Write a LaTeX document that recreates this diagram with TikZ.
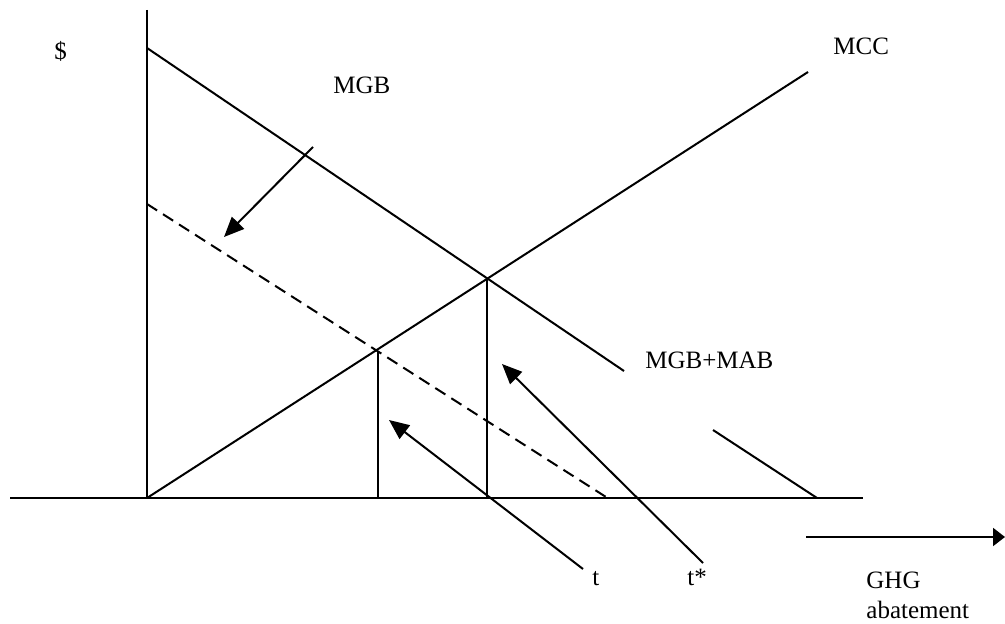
\documentclass[tikz,border=0pt]{standalone}
\usepackage{fontspec}
\setmainfont{Liberation Serif}
\usetikzlibrary{arrows.meta}
\tikzset{
    curve/.style={line width=1pt},
    shift arrow/.style={line width=1pt, -{Triangle[length=10pt,width=8.5pt]}},
    lbl/.style={anchor=base west, inner sep=0pt, font=\fontsize{12.5}{15}\selectfont}
}
\begin{document}
\begin{tikzpicture}[x=0.5pt,y=-0.5pt]
        \useasboundingbox (0,0) rectangle (1005,624);
        % axes
        \coordinate (origin) at (147,498);
        \draw[curve] (147,10) -- (origin);
        \draw[curve] (10,498) -- (863,498);
        % curves
        \draw[curve] (147,48) -- (624,371);
        \draw[curve] (713,430) -- (817,498);
        \draw[curve, dash pattern=on 6pt off 3.5pt] (147,204) -- (606,497);
        \draw[curve] (origin) -- (808,72);
        % equilibria
        \coordinate (eq) at (378,351);
        \coordinate (eqstar) at (487,278);
        \draw[curve] (eq) -- (378,498);
        \draw[curve] (eqstar) -- (487,498);
        % labels
        \node[lbl] (dollar) at (54,60) {\$};
        \node[lbl] (mgb) at (333,94) {MGB};
        \node[lbl] (mcc) at (833,55) {MCC};
        \node[lbl] (mgbmab) at (645,369) {MGB+MAB};
        \node[lbl] (t) at (592,585) {t};
        \node[lbl] (tstar) at (687,585) {t*};
        \node[lbl] (ghg) at (866,588) {GHG};
        \node[lbl] (abate) at (866,618) {abatement};
        % arrows
        \draw[shift arrow] (313,147) -- (224,237);
        \draw[shift arrow] (583,569) -- (389,420);
        \draw[shift arrow] (703,563) -- (502,364);
        \draw[line width=1pt, -{Triangle[length=6pt,width=9pt]}] (806,537) -- (1005,537);
    \end{tikzpicture}
\end{document}
